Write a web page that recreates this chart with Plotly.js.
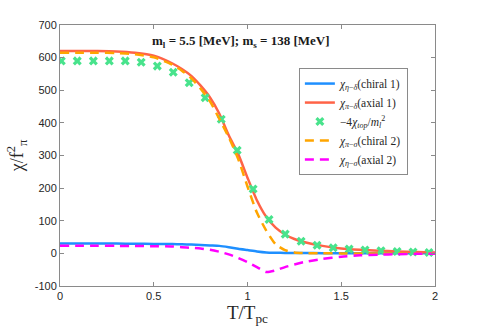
<!DOCTYPE html>
<html>
<head>
<meta charset="utf-8">
<script src="https://cdn.plot.ly/plotly-3.0.1.min.js"></script>
<style>
  html, body { margin: 0; padding: 0; background: #fff; }
  #chart { width: 496px; height: 329px; }
</style>
</head>
<body>
<div id="chart"></div>
<script>
// temperature grid for the curves (T/Tpc)
const tGrid = [0, 0.1, 0.2, 0.3, 0.4, 0.5, 0.6, 0.65, 0.7, 0.75, 0.8, 0.85, 0.9, 0.95,
  1.0, 1.05, 1.1, 1.15, 1.2, 1.25, 1.3, 1.4, 1.5, 1.6, 1.7, 1.8, 1.9, 2.0];

const chiEtaDelta = [30, 30, 30, 30, 29.5, 29, 28.5, 28, 27, 26, 24.5, 23, 19, 14,
  10, 6, 3, 2, 1.5, 1.2, 1, 0.7, 0.5, 0.4, 0.4, 0.3, 0.3, 0.3];

const chiPiDelta = [620, 620, 620, 619, 615, 606, 582, 565, 544, 514, 478, 428, 362, 305,
  232, 163, 112, 79, 58, 44, 35, 23, 15, 11, 8, 6, 4.5, 3];

const chiPiSigma = [615, 615, 615, 614, 610, 601, 578, 560, 537, 505, 466, 412, 356, 290,
  205, 125, 70, 28, 10, 3, 1, 0.5, 0, 0, 0, 0, 0, 0];

const chiEtaSigma = [23, 23, 23, 23, 22.5, 22, 21, 19, 17, 15, 11, 5, -3, -14,
  -27, -42, -57, -52, -42, -34, -27, -17, -10, -6, -4, -2.5, -1.5, -1];

// topological susceptibility points
const tTop = [0.007, 0.092, 0.178, 0.263, 0.348, 0.433, 0.519, 0.604, 0.689, 0.774, 0.86, 0.945,
  1.03, 1.115, 1.201, 1.286, 1.371, 1.457, 1.542, 1.627, 1.712, 1.798, 1.883, 1.968];
const chiTop = [590, 590, 590, 590, 590, 586, 574, 555, 523, 477, 411, 316,
  197, 104, 59, 37, 25, 17, 13, 10, 8, 6, 4, 3];

const xTicks = [0, 0.5, 1, 1.5, 2];
const yTicks = [-100, 0, 100, 200, 300, 400, 500, 600, 700];

const serif = 'Liberation Serif, DejaVu Serif, serif';

function curve(y, name, color, dash) {
  return {
    x: tGrid, y: y, name: name, type: 'scatter', mode: 'lines',
    line: { color: color, width: 2.5, dash: dash || 'solid', shape: 'spline', smoothing: 0.6 }
  };
}

const traces = [
  curve(chiEtaDelta, '<i>χ</i><sub><i>η</i>−<i>δ</i></sub>(chiral 1)', '#1e8fff'),
  curve(chiPiDelta, '<i>χ</i><sub><i>π</i>−<i>δ</i></sub>(axial 1)', '#ff6347'),
  {
    x: tTop, y: chiTop, name: '−4<i>χ</i><sub><i>top</i></sub>/<i>m</i><sub><i>l</i></sub><sup>2</sup>',
    type: 'scatter', mode: 'markers',
    marker: { symbol: 'x', size: 8, color: '#48e38c' }
  },
  curve(chiPiSigma, '<i>χ</i><sub><i>π</i>−<i>σ</i></sub>(chiral 2)', '#ffa500', '9px,6px'),
  curve(chiEtaSigma, '<i>χ</i><sub><i>η</i>−<i>σ</i></sub>(axial 2)', '#ff00ff', '9px,6px')
];

const axisCommon = {
  showline: true, mirror: 'ticks', linecolor: '#8a8a8a', linewidth: 1,
  ticks: 'inside', ticklen: 4, tickcolor: '#8a8a8a',
  showgrid: false, zeroline: false,
  tickfont: { family: 'Liberation Sans, Arial, sans-serif', size: 11, color: '#262626' }
};

const layout = {
  width: 496, height: 329,
  margin: { l: 60, r: 61, t: 25, b: 43 },
  paper_bgcolor: '#fff', plot_bgcolor: '#fff',
  showlegend: true,
  legend: {
    x: 0.637, y: 0.835, xanchor: 'left', yanchor: 'top',
    bgcolor: '#fff', bordercolor: '#8a8a8a', borderwidth: 1,
    font: { family: serif, size: 11.5, color: '#262626' },
    itemwidth: 30, tracegroupgap: 0
  },
  xaxis: Object.assign({}, axisCommon, {
    range: [0, 2], tickvals: xTicks, ticktext: xTicks.map(String),
    title: { text: 'T/T<sub>pc</sub>', font: { family: serif, size: 19, color: '#262626' }, standoff: 2 }
  }),
  yaxis: Object.assign({}, axisCommon, {
    range: [-100, 700], tickvals: yTicks, ticktext: yTicks.map(String),
    title: { text: 'χ/f<sup>2</sup><sub>π</sub>', font: { family: serif, size: 18, color: '#262626' }, standoff: 6 }
  }),
  annotations: [{
    text: '<b>m<sub>l</sub> = 5.5 [MeV]; m<sub>s</sub> = 138 [MeV]</b>',
    xref: 'paper', yref: 'paper', x: 0.483, y: 0.935, xanchor: 'center', yanchor: 'middle',
    showarrow: false, font: { family: serif, size: 13, color: '#1a1a1a' }
  }]
};

Plotly.newPlot('chart', traces, layout, { staticPlot: true, displayModeBar: false });
</script>
</body>
</html>
